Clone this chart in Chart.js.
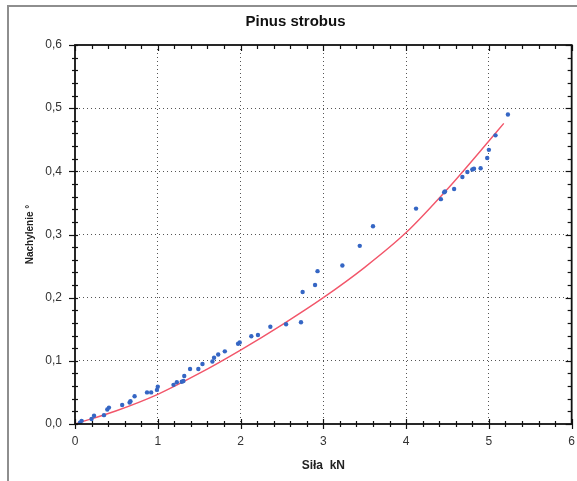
<!DOCTYPE html>
<html>
<head>
<meta charset="utf-8">
<script src="https://cdn.jsdelivr.net/npm/chart.js@4.4.0/dist/chart.umd.min.js"></script>
<style>
  html, body { margin: 0; padding: 0; background: #fff; }
  #wrap { position: relative; width: 577px; height: 481px; overflow: hidden; }
  #panel { position: absolute; left: 7px; top: 5px; width: 600px; height: 500px;
           border-left: 2px solid #8e8e8e; border-top: 2px solid #8e8e8e; background: #fff; }
  #chart { position: absolute; left: 0; top: 0; }
</style>
</head>
<body>
<div id="wrap">
  <div id="panel"></div>
  <canvas id="chart" width="585" height="481"></canvas>
</div>
<script>
// measured points: force (kN) vs tilt (degrees)
const forceKN = [0.06, 0.08, 0.2, 0.23, 0.35, 0.39, 0.41, 0.57, 0.66, 0.67,
  0.72, 0.87, 0.92, 0.99, 1.0, 1.19, 1.23, 1.29, 1.31, 1.32,
  1.39, 1.49, 1.54, 1.66, 1.68, 1.73, 1.81, 1.97, 1.99, 2.13,
  2.21, 2.36, 2.55, 2.73, 2.75, 2.90, 2.93, 3.23, 3.44, 3.60,
  4.12, 4.42, 4.46, 4.47, 4.58, 4.68, 4.74, 4.80, 4.82, 4.90,
  4.98, 5.0, 5.08, 5.23];
const tiltDeg = [0.002, 0.005, 0.008, 0.013, 0.014, 0.023, 0.026, 0.030, 0.034, 0.036,
  0.044, 0.050, 0.050, 0.054, 0.059, 0.062, 0.066, 0.067, 0.068, 0.076,
  0.087, 0.087, 0.095, 0.099, 0.105, 0.110, 0.115, 0.127, 0.129, 0.139,
  0.141, 0.154, 0.158, 0.161, 0.209, 0.220, 0.242, 0.251, 0.282, 0.313,
  0.341, 0.356, 0.367, 0.368, 0.372, 0.391, 0.399, 0.403, 0.404, 0.405,
  0.421, 0.434, 0.457, 0.490];

// fitted curve
const fitX = [0, 0.5, 1, 1.5, 2, 2.5, 3, 3.5, 4, 4.5, 5, 5.18];
const fitY = [0, 0.021, 0.047, 0.08, 0.117, 0.157, 0.2, 0.248, 0.303, 0.372, 0.448, 0.476];

const xTickLabels = ['0', '1', '2', '3', '4', '5', '6'];
const yTickLabels = ['0,0', '0,1', '0,2', '0,3', '0,4', '0,5', '0,6'];

const FONT = "'Liberation Sans', Arial, sans-serif";

// plot frame + major/minor tick marks on all four sides
const frameTicks = {
  id: 'frameTicks',
  afterDatasetsDraw(chart) {
    const { ctx, chartArea: a, scales: { x, y } } = chart;
    const line = (x1, y1, x2, y2) => {
      ctx.beginPath(); ctx.moveTo(x1, y1); ctx.lineTo(x2, y2); ctx.stroke();
    };
    ctx.save();
    ctx.strokeStyle = '#111';
    ctx.lineWidth = 1.2;
    for (let i = 0; i <= 30; i++) {
      const px = Math.round(x.getPixelForValue(i * 0.2)) + 0.5;
      const major = i % 5 === 0;
      line(px, a.bottom - (major ? 5 : 3), px, a.bottom + (major ? 5 : 3));
      line(px, a.top, px, a.top + (major ? 6 : 4));
    }
    for (let i = 0; i <= 30; i++) {
      const py = Math.round(y.getPixelForValue(i * 0.02)) + 0.5;
      const major = i % 5 === 0;
      line(a.left - (major ? 6 : 3), py, a.left + 3, py);
      line(a.right - (major ? 6 : 4), py, a.right, py);
    }
    ctx.lineWidth = 1.8;
    ctx.strokeRect(a.left, a.top, a.right - a.left, a.bottom - a.top);
    ctx.restore();
  }
};

const ctx = document.getElementById('chart').getContext('2d');
const chart = new Chart(ctx, {
  type: 'scatter',
  data: {
    datasets: [
      {
        label: 'pomiar',
        data: forceKN.map((f, i) => ({ x: f, y: tiltDeg[i] })),
        backgroundColor: '#3566c4',
        borderColor: '#3566c4',
        pointRadius: 2.2,
        pointBorderWidth: 0
      },
      {
        label: 'model',
        data: fitX.map((f, i) => ({ x: f, y: fitY[i] })),
        showLine: true,
        borderColor: '#f2566a',
        borderWidth: 1.4,
        pointRadius: 0,
        cubicInterpolationMode: 'monotone'
      }
    ]
  },
  options: {
    responsive: false,
    animation: false,
    layout: { padding: { left: 12, right: 6, top: 0, bottom: 0 } },
    plugins: {
      legend: { display: false },
      tooltip: { enabled: false },
      title: {
        display: true,
        text: 'Pinus strobus',
        color: '#111',
        font: { family: FONT, size: 15, weight: 'bold' },
        padding: { top: 13, bottom: 14 }
      }
    },
    scales: {
      x: {
        type: 'linear',
        min: 0, max: 6,
        afterFit: s => { s.height = 57; },
        ticks: {
          stepSize: 1,
          padding: 10,
          color: '#333',
          font: { family: FONT, size: 12 },
          callback: (v) => xTickLabels[Math.round(v)]
        },
        grid: {
          drawTicks: false,
          color: (c) => (c.tick && c.tick.value > 0 && c.tick.value < 6) ? '#555' : 'rgba(0,0,0,0)',
          lineWidth: 1
        },
        border: { display: false, dash: [1, 3] },
        title: {
          display: true,
          text: 'Siła  kN',
          color: '#222',
          font: { family: FONT, size: 12, weight: 'bold' },
          padding: { top: 0, bottom: 8 }
        }
      },
      y: {
        type: 'linear',
        min: 0, max: 0.6,
        afterFit: s => { s.width = 63; },
        ticks: {
          stepSize: 0.1,
          padding: 13,
          color: '#333',
          font: { family: FONT, size: 12 },
          callback: (v) => yTickLabels[Math.round(v * 10)]
        },
        grid: {
          drawTicks: false,
          color: (c) => (c.tick && c.tick.value > 0.001 && c.tick.value < 0.599) ? '#555' : 'rgba(0,0,0,0)',
          lineWidth: 1
        },
        border: { display: false, dash: [1, 3] },
        title: {
          display: true,
          text: 'Nachylenie °',
          color: '#222',
          font: { family: FONT, size: 10, weight: 'bold' },
          padding: { top: 12, bottom: 0 }
        }
      }
    }
  },
  plugins: [frameTicks]
});
</script>
</body>
</html>
